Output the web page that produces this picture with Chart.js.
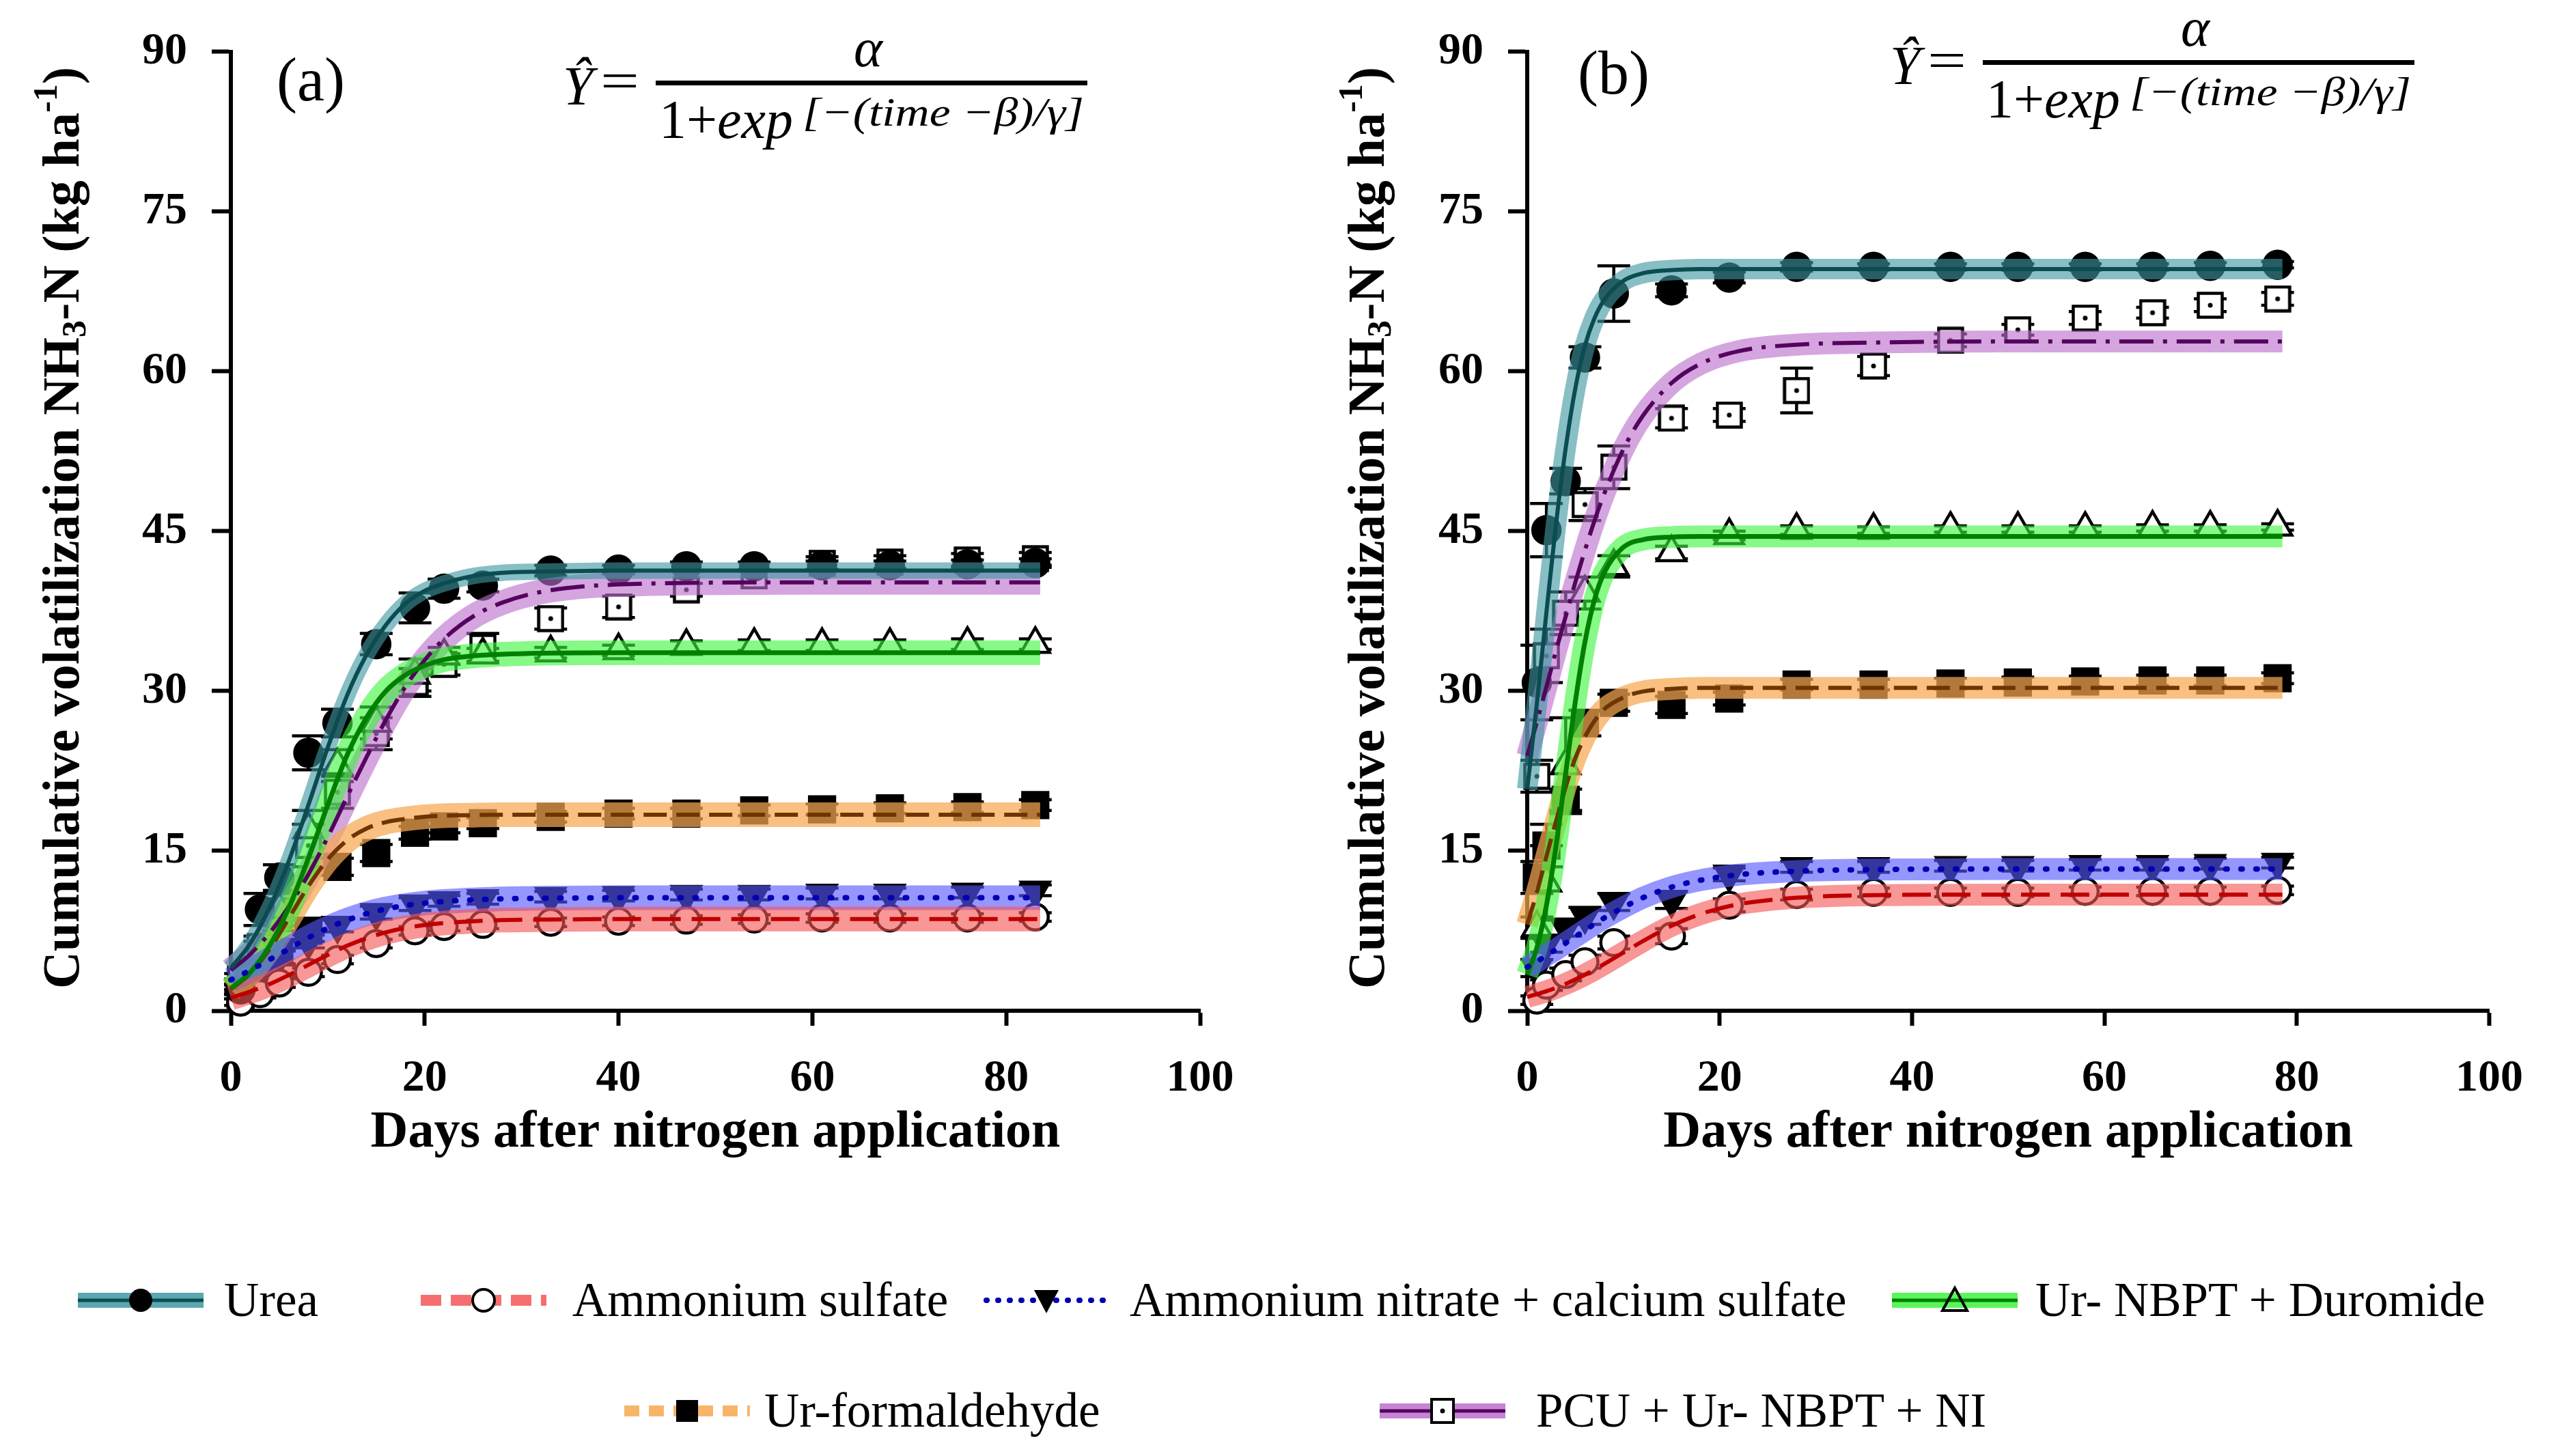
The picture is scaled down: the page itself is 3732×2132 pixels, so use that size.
<!DOCTYPE html>
<html><head><meta charset="utf-8">
<script src="https://cdn.jsdelivr.net/npm/chart.js@4.4.0/dist/chart.umd.min.js"></script>
<style>
html,body{margin:0;padding:0;background:#fff;}
body{width:3732px;height:2132px;position:relative;overflow:hidden;font-family:'Liberation Serif','Times New Roman',serif;color:#000;}
.abs{position:absolute;white-space:nowrap;line-height:1;transform-origin:left center;}
.it{font-style:italic;}
.bar{position:absolute;background:#000;}
.leg{position:absolute;display:flex;align-items:center;font-size:71px;line-height:1;white-space:nowrap;}
.leg svg{display:block;}
</style></head>
<body>
<canvas id="cA" width="1866" height="1760" style="position:absolute;left:0;top:0;"></canvas>
<canvas id="cB" width="1866" height="1760" style="position:absolute;left:1866px;top:0;"></canvas>
<div id="overlay"></div>
<script>
// ---------------- DATA ----------------
const DAYS_A = [1,3,5,8,11,15,19,22,26,33,40,47,54,61,68,76,83];
const A_UREA   = [2.0, 9.5, 12.5, 24.2, 27.0, 34.4, 37.8, 39.6, 39.9, 41.3, 41.4, 41.7, 41.7, 41.8, 41.8, 41.9, 42.0];
const A_AMSULF = [0.8, 1.6, 2.6, 3.6, 4.8, 6.3, 7.5, 7.9, 8.1, 8.3, 8.4, 8.5, 8.6, 8.7, 8.7, 8.7, 8.8];
const A_ANCS   = [2.0, 3.5, 5.0, 6.5, 8.0, 9.2, 10.0, 10.3, 10.5, 10.7, 10.8, 10.9, 10.9, 11.0, 11.0, 11.1, 11.3];
const A_URNBPT = [2.5, 5.5, 9.5, 17.0, 23.0, 27.0, 31.5, 33.3, 33.4, 33.6, 33.8, 34.2, 34.3, 34.3, 34.3, 34.4, 34.4];
const A_URFORM = [1.5, 3.5, 5.5, 7.5, 13.5, 14.8, 16.7, 17.3, 17.6, 18.2, 18.5, 18.5, 18.8, 18.9, 19.0, 19.1, 19.3];
const A_PCU    = [3.0, 6.0, 9.0, 15.5, 20.5, 26.0, 30.8, 32.5, 34.1, 36.8, 37.9, 39.5, 40.8, 42.0, 42.1, 42.3, 42.4];

const A_UREA_ERR   = [0.5, 1.5, 1.2, 1.6, 1.3, 1.0, 1.4, 0.9, 0.6, 0.5, 0.4, 0.4, 0.4, 0.4, 0.4, 0.4, 0.4];
const A_AMSULF_ERR = [0.3, 0.4, 0.4, 0.4, 0.4, 0.4, 0.4, 0.4, 0.4, 0.4, 0.4, 0.4, 0.4, 0.4, 0.4, 0.4, 0.4];
const A_ANCS_ERR   = [0.4, 0.6, 0.6, 0.6, 0.6, 0.6, 0.6, 0.5, 0.5, 0.5, 0.5, 0.5, 0.5, 0.5, 0.5, 0.5, 0.5];
const A_URNBPT_ERR = [0.5, 1.0, 1.5, 1.8, 1.5, 1.5, 1.5, 0.8, 0.6, 0.5, 0.5, 0.5, 0.5, 0.5, 0.5, 0.5, 0.5];
const A_URFORM_ERR = [0.4, 0.8, 1.2, 1.0, 0.8, 0.8, 0.6, 0.6, 0.5, 0.5, 0.5, 0.5, 0.5, 0.5, 0.5, 0.5, 0.5];
const A_PCU_ERR    = [0.5, 1.0, 1.5, 2.0, 1.5, 1.5, 1.3, 1.0, 1.3, 1.0, 1.0, 0.6, 0.6, 0.6, 0.6, 0.6, 0.6];

const FIT_DAYS_A   = [0, 2, 4, 6, 8, 10, 12, 14, 16, 18, 20, 22, 25, 28, 32, 40, 60, 83.5];
const A_UREA_FIT   = [4.0, 6.3, 9.7, 14.1, 19.3, 24.7, 29.6, 33.4, 36.2, 38.2, 39.4, 40.1, 40.8, 41.1, 41.2, 41.3, 41.3, 41.3];
const A_PCU_FIT    = [3.8, 5.3, 7.3, 9.8, 12.8, 16.3, 20.1, 23.8, 27.3, 30.4, 32.9, 34.9, 37.0, 38.3, 39.3, 40.0, 40.2, 40.2];
const A_URNBPT_FIT = [2.1, 3.6, 6.1, 9.7, 14.3, 19.3, 24.0, 27.5, 30.0, 31.5, 32.4, 32.95, 33.3, 33.45, 33.55, 33.6, 33.6, 33.6];
const A_URFORM_FIT = [2.0, 3.5, 5.8, 8.7, 11.7, 14.2, 16.0, 17.1, 17.7, 18.0, 18.2, 18.3, 18.35, 18.4, 18.4, 18.4, 18.4, 18.4];
const A_ANCS_FIT   = [2.9, 3.8, 4.8, 5.8, 6.85, 7.75, 8.5, 9.1, 9.55, 9.87, 10.1, 10.25, 10.4, 10.5, 10.55, 10.6, 10.6, 10.6];
const A_AMSULF_FIT = [1.2, 1.8, 2.5, 3.36, 4.3, 5.24, 6.1, 6.8, 7.36, 7.76, 8.04, 8.23, 8.4, 8.5, 8.55, 8.6, 8.6, 8.6];

const DAYS_B = [1, 2, 4, 6, 9, 15, 21, 28, 36, 44, 51, 58, 65, 71, 78];
const B_UREA   = [30.8, 45.1, 49.7, 61.3, 67.3, 67.6, 68.8, 69.8, 69.8, 69.8, 69.8, 69.8, 69.8, 69.9, 70.0];
const B_AMSULF = [1.0, 2.4, 3.4, 4.6, 6.4, 7.0, 9.9, 10.9, 11.1, 11.1, 11.1, 11.2, 11.2, 11.2, 11.3];
const B_ANCS   = [4.0, 6.3, 7.8, 8.9, 10.2, 10.4, 12.8, 13.5, 13.5, 13.6, 13.6, 13.7, 13.7, 13.8, 13.9];
const B_URNBPT = [7.8, 12.0, 23.0, 39.2, 41.7, 43.0, 44.6, 45.1, 45.1, 45.2, 45.2, 45.2, 45.3, 45.3, 45.4];
const B_URFORM = [12.5, 15.5, 19.8, 27.0, 28.9, 28.7, 29.3, 30.6, 30.6, 30.7, 30.8, 30.9, 31.0, 31.0, 31.2];
const B_PCU    = [22.0, 33.3, 37.3, 47.5, 51.0, 55.6, 55.9, 58.2, 60.5, 62.9, 63.9, 65.0, 65.5, 66.2, 66.8];

const B_UREA_ERR   = [3.5, 2.5, 1.2, 1.0, 2.6, 0.6, 0.5, 0.4, 0.3, 0.3, 0.3, 0.3, 0.3, 0.3, 0.3];
const B_AMSULF_ERR = [0.4, 0.5, 0.6, 0.6, 0.6, 0.7, 0.6, 0.5, 0.4, 0.4, 0.4, 0.4, 0.4, 0.4, 0.4];
const B_ANCS_ERR   = [0.8, 0.8, 0.8, 0.8, 0.8, 0.8, 0.6, 0.5, 0.5, 0.5, 0.5, 0.5, 0.5, 0.5, 0.5];
const B_URNBPT_ERR = [1.0, 3.5, 4.5, 1.5, 1.0, 0.6, 0.4, 0.4, 0.3, 0.3, 0.3, 0.3, 0.3, 0.3, 0.3];
const B_URFORM_ERR = [1.5, 2.0, 1.0, 1.2, 0.8, 0.8, 0.6, 0.5, 0.5, 0.5, 0.5, 0.5, 0.5, 0.5, 0.5];
const B_PCU_ERR    = [1.5, 2.5, 2.0, 1.5, 2.0, 0.9, 0.6, 2.1, 0.9, 0.6, 0.5, 0.6, 0.5, 0.6, 0.6];

const FIT_DAYS_B   = [0, 1, 2, 3, 4, 5, 6, 7, 8, 10, 12, 15, 18, 22, 28, 36, 50, 78.5];
const B_UREA_FIT   = [20.8, 28.8, 37.4, 45.7, 52.8, 58.4, 62.4, 65.0, 66.7, 68.5, 69.2, 69.5, 69.6, 69.6, 69.6, 69.6, 69.6, 69.6];
const B_PCU_FIT    = [23.9, 27.1, 30.4, 33.8, 37.0, 40.2, 43.2, 46.0, 48.5, 52.7, 55.8, 58.9, 60.7, 61.9, 62.5, 62.7, 62.8, 62.8];
const B_URNBPT_FIT = [3.4, 5.9, 9.9, 15.5, 22.3, 29.0, 34.6, 38.6, 41.1, 43.5, 44.2, 44.45, 44.5, 44.5, 44.5, 44.5, 44.5, 44.5];
const B_URFORM_FIT = [8.1, 11.1, 14.5, 17.8, 21.0, 23.7, 25.7, 27.2, 28.3, 29.4, 29.95, 30.2, 30.3, 30.3, 30.3, 30.3, 30.3, 30.3];
const B_ANCS_FIT   = [4.1, 4.6, 5.2, 5.75, 6.35, 6.95, 7.55, 8.14, 8.7, 9.7, 10.6, 11.6, 12.25, 12.77, 13.1, 13.25, 13.3, 13.3];
const B_AMSULF_FIT = [1.3, 1.55, 1.83, 2.15, 2.52, 2.93, 3.38, 3.86, 4.38, 5.45, 6.52, 7.97, 9.07, 10.0, 10.6, 10.84, 10.9, 10.9];

const X_TICKS = [0, 20, 40, 60, 80, 100];
const Y_TICKS = [0, 15, 30, 45, 60, 75, 90];
const SERIES_NAMES = ['Urea', 'Ammonium sulfate', 'Ammonium nitrate + calcium sulfate', 'Ur- NBPT + Duromide', 'Ur-formaldehyde', 'PCU + Ur- NBPT + NI'];

// ---------------- STYLES ----------------
const SERIF = "'Liberation Serif','Times New Roman',serif";
function pcuMarker(){
  const c = document.createElement('canvas'); c.width = 40; c.height = 40;
  const g = c.getContext('2d');
  g.fillStyle = '#fff'; g.fillRect(2,2,36,36);
  g.strokeStyle = '#000'; g.lineWidth = 4.5; g.strokeRect(2.5,2.5,35,35);
  g.fillStyle = '#000'; g.beginPath(); g.arc(20,20,3.5,0,Math.PI*2); g.fill();
  return c;
}
const STY = {
  urea:   {band:'rgba(62,152,162,0.62)', line:'#0a4c52', dash:[], lw:6, ps:'circle', r:20, rot:0, fill:'#000'},
  amsulf: {band:'rgba(245,85,85,0.62)',  line:'#c00000', dash:[42,16], lw:6, ps:'circle', r:19, rot:0, fill:'#fff'},
  ancs:   {band:'rgba(85,85,255,0.62)',  line:'#0000b4', dash:[2,20], lw:8, ps:'triangle', r:24, rot:180, fill:'#000'},
  urnbpt: {band:'rgba(60,245,60,0.62)',  line:'#008000', dash:[], lw:7, ps:'triangle', r:24, rot:0, fill:'#fff'},
  urform: {band:'rgba(247,168,80,0.72)', line:'#6e3500', dash:[34,14], lw:6, ps:'rect', r:26, rot:0, fill:'#000'},
  pcu:    {band:'rgba(188,110,205,0.62)',line:'#55045e', dash:[50,14,6,14], lw:6, ps:null, r:20, rot:0, fill:'#fff'}
};

function pts(xs, ys){ return xs.map((x,i)=>({x:x, y:ys[i]})); }

function buildDatasets(days, fitDays, series, bandW){
  const ds = [];
  series.forEach(s=>{
    const st = STY[s.key];
    ds.push({ // markers
      data: pts(days, s.obs), showLine:false, errors:s.err, order:30, clip:false,
      pointStyle: st.ps || pcuMarker(), pointRadius: st.r, pointRotation: st.rot,
      pointBackgroundColor: st.fill, pointBorderColor:'#000', pointBorderWidth:4.5, pointHoverRadius: st.r
    });
    ds.push({ // confidence band
      data: pts(fitDays, s.fit), showLine:true, order:20, clip:false, pointRadius:0,
      borderColor: st.band, borderWidth: (s.key==='urea' && bandW.teal) ? bandW.teal : bandW.w,
      borderCapStyle:'butt', cubicInterpolationMode:'monotone', fill:false
    });
    ds.push({ // fitted line
      data: pts(fitDays, s.fit), showLine:true, order:10, clip:false, pointRadius:0,
      borderColor: st.line, borderWidth: st.lw, borderDash: st.dash,
      borderCapStyle: s.key==='ancs' ? 'round' : 'butt', cubicInterpolationMode:'monotone', fill:false
    });
  });
  return ds;
}

const errorBarPlugin = {
  id:'errbars',
  beforeDatasetsDraw(chart){
    const ctx = chart.ctx, xs = chart.scales.x, ys = chart.scales.y;
    ctx.save(); ctx.strokeStyle = '#000'; ctx.lineWidth = 4.5;
    chart.data.datasets.forEach(ds=>{
      if(!ds.errors) return;
      ds.data.forEach((p,i)=>{
        const e = ds.errors[i]; if(!e) return;
        const px = xs.getPixelForValue(p.x);
        const t = ys.getPixelForValue(p.y+e), b = ys.getPixelForValue(p.y-e);
        ctx.beginPath();
        ctx.moveTo(px,t); ctx.lineTo(px,b);
        ctx.moveTo(px-24,t); ctx.lineTo(px+24,t);
        ctx.moveTo(px-24,b); ctx.lineTo(px+24,b);
        ctx.stroke();
      });
    });
    ctx.restore();
  }
};

const yTitlePlugin = {
  id:'ytitle',
  afterDraw(chart, args, opts){
    const ctx = chart.ctx;
    const segs = [
      {t:'Cumulative volatilization NH', s:76, dy:0},
      {t:'3', s:50, dy:17},
      {t:'-N (kg ha', s:76, dy:0},
      {t:'-1', s:50, dy:-25},
      {t:')', s:76, dy:0}
    ];
    ctx.save();
    ctx.translate(opts.x, opts.y);
    ctx.rotate(-Math.PI/2);
    ctx.fillStyle = '#000'; ctx.textBaseline = 'middle'; ctx.textAlign = 'left';
    let total = 0;
    segs.forEach(g=>{ ctx.font = 'bold '+g.s+'px '+SERIF; g.w = ctx.measureText(g.t).width; total += g.w; });
    let x = -total/2;
    segs.forEach(g=>{ ctx.font = 'bold '+g.s+'px '+SERIF; ctx.fillText(g.t, x, g.dy); x += g.w; });
    ctx.restore();
  }
};

function makeChart(id, days, fitDays, series, yAxisWidth, padRight, bandW, ytx){
  const tickFont = {family:SERIF, size:66, weight:'bold'};
  return new Chart(document.getElementById(id), {
    type:'scatter',
    data:{datasets: buildDatasets(days, fitDays, series, bandW)},
    plugins:[errorBarPlugin, yTitlePlugin],
    options:{
      responsive:false, maintainAspectRatio:false, animation:false, devicePixelRatio:1,
      layout:{padding:{left:0, top:64, right:padRight, bottom:0}},
      plugins:{legend:{display:false}, tooltip:{enabled:false}, ytitle:{x:ytx, y:773}},
      scales:{
        x:{type:'linear', min:0, max:100,
           afterBuildTicks: s=>{ s.ticks = X_TICKS.map(v=>({value:v})); },
           ticks:{font:tickFont, color:'#000', padding:38, maxRotation:0, autoSkip:false},
           grid:{display:true, drawOnChartArea:false, drawTicks:true, tickLength:22, tickWidth:6, tickColor:'#000'},
           border:{display:true, width:6, color:'#000'},
           title:{display:true, text:'Days after nitrogen application', color:'#000',
                  font:{family:SERIF, size:76, weight:'bold'}, padding:{top:0, bottom:55}},
           afterFit: s=>{ s.height = 280; }},
        y:{type:'linear', min:0, max:90,
           afterBuildTicks: s=>{ s.ticks = Y_TICKS.map(v=>({value:v})); },
           ticks:{font:tickFont, color:'#000', padding:36, autoSkip:false},
           grid:{display:true, drawOnChartArea:false, drawTicks:true, tickLength:28, tickWidth:6, tickColor:'#000'},
           border:{display:true, width:6, color:'#000'},
           afterFit: s=>{ s.width = yAxisWidth; }}
      }
    }
  });
}

makeChart('cA', DAYS_A, FIT_DAYS_A, [
  {key:'urea',   obs:A_UREA,   err:A_UREA_ERR,   fit:A_UREA_FIT},
  {key:'amsulf', obs:A_AMSULF, err:A_AMSULF_ERR, fit:A_AMSULF_FIT},
  {key:'ancs',   obs:A_ANCS,   err:A_ANCS_ERR,   fit:A_ANCS_FIT},
  {key:'urnbpt', obs:A_URNBPT, err:A_URNBPT_ERR, fit:A_URNBPT_FIT},
  {key:'urform', obs:A_URFORM, err:A_URFORM_ERR, fit:A_URFORM_FIT},
  {key:'pcu',    obs:A_PCU,    err:A_PCU_ERR,    fit:A_PCU_FIT}
], 338, 109, {w:36, teal:24}, 95);

makeChart('cB', DAYS_B, FIT_DAYS_B, [
  {key:'urea',   obs:B_UREA,   err:B_UREA_ERR,   fit:B_UREA_FIT},
  {key:'amsulf', obs:B_AMSULF, err:B_AMSULF_ERR, fit:B_AMSULF_FIT},
  {key:'ancs',   obs:B_ANCS,   err:B_ANCS_ERR,   fit:B_ANCS_FIT},
  {key:'urnbpt', obs:B_URNBPT, err:B_URNBPT_ERR, fit:B_URNBPT_FIT},
  {key:'urform', obs:B_URFORM, err:B_URFORM_ERR, fit:B_URFORM_FIT},
  {key:'pcu',    obs:B_PCU,    err:B_PCU_ERR,    fit:B_PCU_FIT}
], 370, 66, {w:32, teal:30}, 140);

// ---------------- OVERLAY TEXT ----------------
const ov = document.getElementById('overlay');
function addText(html, o){
  const d = document.createElement('div');
  d.className = 'abs' + (o.italic ? ' it' : '');
  d.innerHTML = html;
  d.style.left = o.left+'px'; d.style.top = o.top+'px'; d.style.fontSize = o.fs+'px';
  if(o.w) d.dataset.w = o.w;
  if(o.center){ d.style.width = o.center+'px'; d.style.textAlign='center'; d.style.marginLeft = (-o.center/2)+'px'; }
  ov.appendChild(d);
  return d;
}
function addBar(l,t,w,h){
  const d = document.createElement('div'); d.className='bar';
  d.style.left=l+'px'; d.style.top=t+'px'; d.style.width=w+'px'; d.style.height=h+'px';
  ov.appendChild(d);
}
function formula(dx, dy){
  addText('Ŷ', {left:824+dx, top:86+dy, fs:80, italic:true});
  addText('=', {left:879+dx, top:80+dy, fs:76, w:57});
  addBar(960+dx, 118+dy, 632, 7);
  addText('α', {left:1271+dx, top:30+dy, fs:80, italic:true, center:200});
  addText('1+<i>exp</i>', {left:965+dx, top:135+dy, fs:80, w:196});
  addText('[−(time −β)/γ]', {left:1175+dx, top:134+dy, fs:60, italic:true, w:412});
}
formula(0, 0);
formula(1943, -30);
addText('(a)', {left:405, top:72, fs:90});
addText('(b)', {left:2310, top:62, fs:90});

// legend
function icon(key){
  const st = STY[key];
  const W = 184, H = 64, cy = 32, cx = 92;
  let s = '<svg width="'+W+'" height="'+H+'" xmlns="http://www.w3.org/2000/svg">';
  const bandCol = st.band.replace(/,[0-9.]+\)$/, ',0.85)');
  if(key==='amsulf') s += '<line x1="0" y1="'+cy+'" x2="'+W+'" y2="'+cy+'" stroke="'+bandCol+'" stroke-width="16" stroke-dasharray="30 14"/>';
  else if(key==='urform') s += '<line x1="0" y1="'+cy+'" x2="'+W+'" y2="'+cy+'" stroke="'+bandCol+'" stroke-width="16" stroke-dasharray="22 14"/>';
  else if(key==='ancs') s += '<line x1="4" y1="'+cy+'" x2="'+W+'" y2="'+cy+'" stroke="'+st.line+'" stroke-width="8" stroke-linecap="round" stroke-dasharray="1 16"/>';
  else {
    s += '<line x1="0" y1="'+cy+'" x2="'+W+'" y2="'+cy+'" stroke="'+bandCol+'" stroke-width="22"/>';
    s += '<line x1="0" y1="'+cy+'" x2="'+W+'" y2="'+cy+'" stroke="'+st.line+'" stroke-width="5"/>';
  }
  if(key==='urea') s += '<circle cx="'+cx+'" cy="'+cy+'" r="17" fill="#000"/>';
  if(key==='amsulf') s += '<circle cx="'+cx+'" cy="'+cy+'" r="16" fill="#fff" stroke="#000" stroke-width="4"/>';
  if(key==='ancs') s += '<polygon points="'+(cx-18)+','+(cy-15)+' '+(cx+18)+','+(cy-15)+' '+cx+','+(cy+19)+'" fill="#000"/>';
  if(key==='urnbpt') s += '<polygon points="'+(cx-18)+','+(cy+15)+' '+(cx+18)+','+(cy+15)+' '+cx+','+(cy-18)+'" fill="none" stroke="#000" stroke-width="4"/>';
  if(key==='urform') s += '<rect x="'+(cx-16)+'" y="'+(cy-16)+'" width="32" height="32" fill="#000"/>';
  if(key==='pcu') s += '<rect x="'+(cx-16)+'" y="'+(cy-17)+'" width="32" height="34" fill="#fff" stroke="#000" stroke-width="4"/><circle cx="'+cx+'" cy="'+cy+'" r="3.5" fill="#000"/>';
  return s + '</svg>';
}
const LEG = [
  {key:'urea',   name:SERIES_NAMES[0], icon:114,  text:328,  cy:1904},
  {key:'amsulf', name:SERIES_NAMES[1], icon:616,  text:838,  cy:1904},
  {key:'ancs',   name:SERIES_NAMES[2], icon:1440, text:1654, cy:1904},
  {key:'urnbpt', name:SERIES_NAMES[3], icon:2770, text:2980, cy:1904},
  {key:'urform', name:SERIES_NAMES[4], icon:914,  text:1119, cy:2066},
  {key:'pcu',    name:SERIES_NAMES[5], icon:2020, text:2249, cy:2066}
];
LEG.forEach(l=>{
  const a = document.createElement('div'); a.className='leg';
  a.style.left = l.icon+'px'; a.style.top = (l.cy-32)+'px'; a.innerHTML = icon(l.key);
  ov.appendChild(a);
  const t = document.createElement('div'); t.className='leg';
  t.style.left = l.text+'px'; t.style.top = (l.cy-36)+'px'; t.textContent = l.name;
  ov.appendChild(t);
});

// fit widths of formula parts
document.querySelectorAll('[data-w]').forEach(el=>{
  const w = el.getBoundingClientRect().width;
  if(w>0) el.style.transform = 'scaleX('+(parseFloat(el.dataset.w)/w)+')';
});
</script>
</body></html>
